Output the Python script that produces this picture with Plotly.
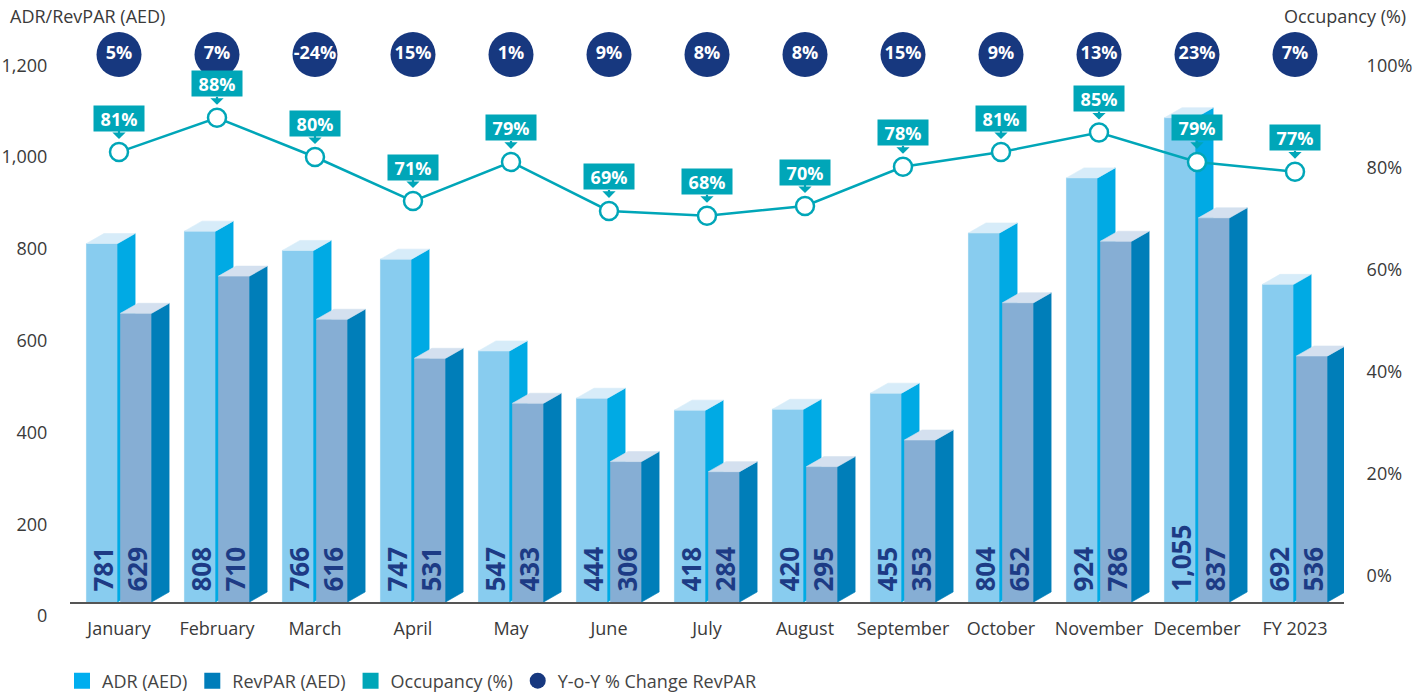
import plotly.graph_objects as go

# ---------------- data ----------------
categories = ["January", "February", "March", "April", "May", "June", "July",
              "August", "September", "October", "November", "December", "FY 2023"]
adr = [781, 808, 766, 747, 547, 444, 418, 420, 455, 804, 924, 1055, 692]
revpar = [629, 710, 616, 531, 433, 306, 284, 295, 353, 652, 786, 837, 536]
occupancy = [81, 88, 80, 71, 79, 69, 68, 70, 78, 81, 85, 79, 77]
yoy_revpar = [5, 7, -24, 15, 1, 9, 8, 8, 15, 9, 13, 23, 7]
left_ticks = [0, 200, 400, 600, 800, 1000, 1200]
right_ticks = [0, 20, 40, 60, 80, 100]

# ---------------- style / geometry ----------------
W, H = 1428, 697
ML, MR, MT, MB = 70, 84, 20, 95
PLOT_W = W - ML - MR
PLOT_H = H - MT - MB
PX_PER_VAL = 0.459               # pixels per AED on bar axis
BAR_MAX = PLOT_H / PX_PER_VAL
BAR_W = 0.318
ADR_OFF, REV_OFF = -0.332, 0.015
DX = 17.5 / (PLOT_W / 13)        # depth in x units
DY = 10 / PX_PER_VAL             # depth in value units
YOY_ROW = (PLOT_H - (54.5 - MT)) / PX_PER_VAL

ADR_FRONT, ADR_SIDE, ADR_TOP = "#88CCEF", "#00AAE4", "#D7ECF9"
REV_FRONT, REV_SIDE, REV_TOP = "#86AED4", "#007EB9", "#D4E0EF"
TEAL = "#00A6B8"
NAVY = "#17387F"
LABEL_NAVY = "#1D3B85"
TXT = "#3a3a3a"
FONT = "Open Sans"
NARROW = "Liberation Sans Narrow, Arial Narrow, Open Sans"


def faces(vals, off):
    fx, fy, sx, sy, tx, ty = [], [], [], [], [], []
    for i, v in enumerate(vals):
        xl = i + off
        xr = xl + BAR_W
        fx += [xl, xr, xr, xl, xl, None]
        fy += [0, 0, v, v, 0, None]
        sx += [xr, xr + DX, xr + DX, xr, xr, None]
        sy += [0, DY, v + DY, v, 0, None]
        tx += [xl, xr, xr + DX, xl + DX, xl, None]
        ty += [v, v, v + DY, v + DY, v, None]
    return (fx, fy), (sx, sy), (tx, ty)


def poly(xy, color):
    return go.Scatter(x=xy[0], y=xy[1], mode="lines", fill="toself",
                      fillcolor=color, line=dict(color=color, width=0.6),
                      hoverinfo="skip", showlegend=False)


fig = go.Figure()

for vals, off, cols in [(adr, ADR_OFF, (ADR_FRONT, ADR_SIDE, ADR_TOP)),
                        (revpar, REV_OFF, (REV_FRONT, REV_SIDE, REV_TOP))]:
    f, s, t = faces(vals, off)
    fig.add_trace(poly(f, cols[0]))
    fig.add_trace(poly(s, cols[1]))
    fig.add_trace(poly(t, cols[2]))

x_idx = list(range(len(categories)))

# occupancy line
fig.add_trace(go.Scatter(
    x=x_idx, y=occupancy, yaxis="y3", mode="lines+markers",
    line=dict(color=TEAL, width=2.5),
    marker=dict(size=18, color="white", line=dict(color=TEAL, width=2.5)),
    hoverinfo="skip", showlegend=False))

# YoY circles
fig.add_trace(go.Scatter(
    x=x_idx, y=[YOY_ROW] * len(x_idx), mode="markers+text",
    marker=dict(size=45, color=NAVY),
    text=[f"{v}%" for v in yoy_revpar], textposition="middle center",
    textfont=dict(family=FONT, size=18, color="white", weight="bold"),
    hoverinfo="skip", showlegend=False))

# legend entries
for name, col, sym in [("ADR (AED)", "#00AEEF", "square"),
                       ("RevPAR (AED)", "#007DBA", "square"),
                       ("Occupancy (%)", TEAL, "square"),
                       ("Y-o-Y % Change RevPAR", NAVY, "circle")]:
    fig.add_trace(go.Scatter(x=[None], y=[None], mode="markers", name=name,
                             marker=dict(symbol=sym, size=16, color=col)))

annotations = []
# bar value labels
for vals, off in [(adr, ADR_OFF), (revpar, REV_OFF)]:
    for i, v in enumerate(vals):
        annotations.append(dict(
            x=i + off + BAR_W / 2, y=0, xref="x", yref="y",
            text=f"{v:,}", textangle=-90, showarrow=False,
            yanchor="bottom", xanchor="center", yshift=8,
            font=dict(family=NARROW, size=26, color=LABEL_NAVY, weight="bold")))

# occupancy callouts
for i, v in enumerate(occupancy):
    annotations.append(dict(
        x=i, y=v, xref="x", yref="y3", text=f"{v}%",
        font=dict(family=FONT, size=18, color="white", weight="bold"),
        bgcolor=TEAL, width=50, height=25, borderpad=0,
        showarrow=True, ax=0, ay=-34, arrowhead=1, arrowsize=1,
        arrowwidth=2.2, arrowcolor=TEAL, standoff=13))

# axis titles
annotations.append(dict(x=(8 - ML) / PLOT_W, y=(PLOT_H - (16 - MT)) / PLOT_H,
                        xref="paper", yref="paper", xanchor="left", yanchor="middle",
                        text="ADR/RevPAR (AED)", showarrow=False,
                        font=dict(family=FONT, size=18, color=TXT)))
annotations.append(dict(x=(1408 - ML) / PLOT_W, y=(PLOT_H - (16 - MT)) / PLOT_H,
                        xref="paper", yref="paper", xanchor="right", yanchor="middle",
                        text="Occupancy (%)", showarrow=False,
                        font=dict(family=FONT, size=18, color=TXT)))

fig.update_layout(
    width=W, height=H,
    margin=dict(l=ML, r=MR, t=MT, b=MB, autoexpand=False),
    paper_bgcolor="white", plot_bgcolor="white",
    font=dict(family=FONT, size=18, color=TXT),
    annotations=annotations,
    showlegend=True,
    legend=dict(orientation="h", xref="container", yref="container",
                x=62 / W, y=1 - 681 / H,
                xanchor="left", yanchor="middle",
                font=dict(family=FONT, size=18, color="#444"),
                itemwidth=30, bgcolor="rgba(0,0,0,0)"),
    xaxis=dict(range=[-0.5, len(categories) - 0.5], tickvals=x_idx, ticktext=categories,
               showline=True, linecolor="#555", linewidth=1.5, showgrid=False,
               zeroline=False, ticks="outside", ticklen=10,
               tickcolor="rgba(0,0,0,0)", tickfont=dict(size=18, color=TXT)),
    yaxis=dict(range=[0, BAR_MAX], tickvals=left_ticks, tickformat=",d",
               showgrid=False, zeroline=False, ticks="outside", ticklen=18,
               tickcolor="rgba(0,0,0,0)", ticklabelshift=14,
               tickfont=dict(size=18, color=TXT)),
    yaxis2=dict(overlaying="y", side="right",
                range=[-(H - MB - 576) / 5.1, (576 - MT) / 5.1],
                tickvals=right_ticks, ticktext=[f"{v}%" for v in right_ticks],
                showgrid=False, zeroline=False,
                ticks="outside", ticklen=18, tickcolor="rgba(0,0,0,0)",
                tickfont=dict(size=18, color=TXT)),
    yaxis3=dict(overlaying="y", visible=False,
                range=[-(H - MB - 549) / 4.9, (549 - MT) / 4.9]),
)
# attach a dummy trace to yaxis2 so it renders
fig.add_trace(go.Scatter(x=[None], y=[None], yaxis="y2", showlegend=False, hoverinfo="skip"))

fig.write_html("out.html", config={"displayModeBar": False},
               post_script="document.body.style.margin='0px';document.body.style.overflow='hidden';")
